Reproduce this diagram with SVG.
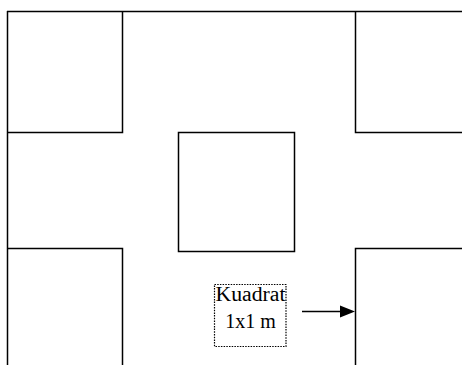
<svg xmlns="http://www.w3.org/2000/svg" width="462" height="365" viewBox="0 0 462 365">
<style>
.ln{fill:none;stroke:#000;stroke-width:1.5}
.lbl{font-family:"Liberation Serif","Times New Roman",serif;font-size:20px;fill:#000;text-anchor:middle}
</style>
<rect width="462" height="365" fill="#fff"/>
<g id="plan">
<path class="ln" d="M7,11.5 H462 M7.5,11 V365"/>
<path id="top-left" class="ln" d="M122.5,11.5 V132.5 H7.5"/>
<path id="top-right" class="ln" d="M355.5,11.5 V132.5 H462"/>
<rect id="center" class="ln" x="178.5" y="132.5" width="116" height="119"/>
<path id="bottom-left" class="ln" d="M7.5,248.5 H122.5 V365"/>
<path id="bottom-right" class="ln" d="M462,248.5 H355.5 V365"/>
</g>
<g id="label">
<rect x="214.5" y="284.5" width="71.5" height="62" fill="none" stroke="#000" stroke-width="1.2" stroke-dasharray="1.5,1.2"/>
<text class="lbl" x="250.5" y="301" textLength="70" lengthAdjust="spacingAndGlyphs">Kuadrat</text>
<text class="lbl" x="250.5" y="328">1x1 m</text>
</g>
<g id="connectors">
<path d="M302,311.5 H343" stroke="#000" stroke-width="1.5"/>
<polygon points="340,305.5 355,311.5 340,317.5" fill="#000"/>
</g>
</svg>
